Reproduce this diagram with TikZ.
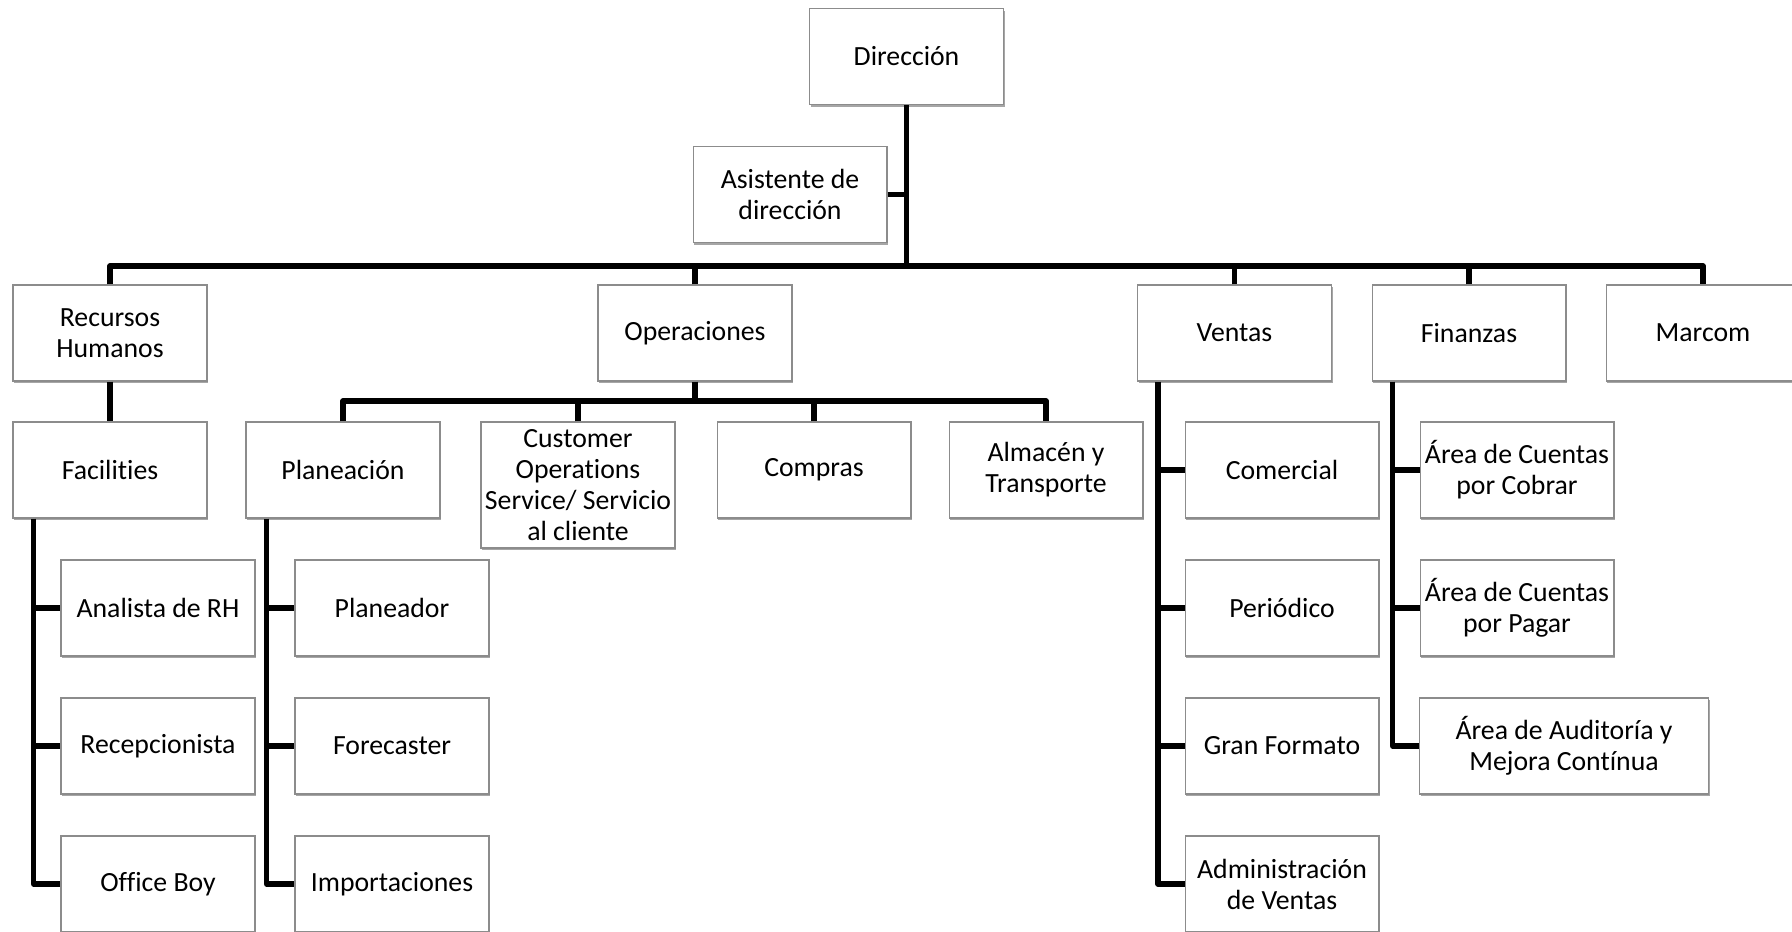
\documentclass[tikz,border=0pt]{standalone}
\usepackage{fontspec}
\setmainfont{Carlito}[RawFeature={-liga}]
\usetikzlibrary{positioning, calc, shadows}

\tikzset{
  unit/.style={draw=black!45, line width=0.6pt, fill=white, inner sep=1pt,
    minimum width=3.88cm, minimum height=1.92cm, align=center,
    font=\fontsize{15.8}{17.6}\selectfont,
    drop shadow={shadow xshift=0.7pt, shadow yshift=-1.3pt, opacity=0.35, fill=black}},
  wideunit/.style={unit, minimum width=5.78cm},
  tallunit/.style={unit, minimum height=2.52cm},
  link/.style={line width=2.9pt, line join=round}
}

\begin{document}
\begin{tikzpicture}[x=0.02cm, y=-0.02cm]
  \useasboundingbox (0,0) rectangle (1792,932);
  \clip (0,0) rectangle (1792,932);

  % top of the chart
  \node[unit] (dir)  at (906.5,56.5) {Dirección};
  \node[unit] (asis) at (790,194.5) {Asistente de\\dirección};

  % areas
  \node[unit] (rh)  at (110,333)  {Recursos\\Humanos};
  \node[unit] (ops) at (695,333)  {Operaciones};
  \node[unit] (ven) at (1234.5,333) {Ventas};
  \node[unit] (fin) at (1469,333) {Finanzas};
  \node[unit] (mkt) at (1703,333) {Marcom};

  % third row
  \node[unit] (fac)  at (110,470)  {Facilities};
  \node[unit] (plan) at (343,470)  {Planeación};
  \node[tallunit] (cus) at (578,485) {Customer\\Operations\\Service/ Servicio\\al cliente};
  \node[unit] (com)  at (814,470)  {Compras};
  \node[unit] (alm)  at (1046,470) {Almacén y\\Transporte};
  \node[unit] (comr) at (1282,470) {Comercial};
  \node[unit] (cob)  at (1517,470) {Área de Cuentas\\por Cobrar};

  % lower rows
  \node[unit] (ana)  at (158,608) {Analista de RH};
  \node[unit] (rec)  at (158,746) {Recepcionista};
  \node[unit] (boy)  at (158,884) {Office Boy};
  \node[unit] (pla)  at (392,608) {Planeador};
  \node[unit] (fore) at (392,746) {Forecaster};
  \node[unit] (imp)  at (392,884) {Importaciones};
  \node[unit] (per)  at (1282,608) {Periódico};
  \node[unit] (gran) at (1282,746) {Gran Formato};
  \node[unit] (adm)  at (1282,884) {Administración\\de Ventas};
  \node[unit] (pag)  at (1517,608) {Área de Cuentas\\por Pagar};
  \node[wideunit] (aud) at (1564,746) {Área de Auditoría y\\Mejora Contínua};

  % main bar
  \coordinate (bar) at (0,266);
  \draw[link] (dir.south) -- (dir.south |- bar);
  \draw[link] (asis.east) -- (asis.east -| dir.south);
  \draw[link] (rh.north) -- (rh.north |- bar) -- (mkt.north |- bar) -- (mkt.north);
  \foreach \n in {ops,ven,fin} { \draw[link] (\n.north) -- (\n.north |- bar); }

  % operaciones bar
  \coordinate (opsbar) at (0,401);
  \draw[link] (ops.south) -- (ops.south |- opsbar);
  \draw[link] (plan.north) -- (plan.north |- opsbar) -- (alm.north |- opsbar) -- (alm.north);
  \foreach \n in {cus,com} { \draw[link] (\n.north) -- (\n.north |- opsbar); }

  \draw[link] (rh) -- (fac);

  % side trunks
  \coordinate (facT) at ($(fac.south west)+(21,0)$);
  \draw[link] (facT) |- (boy.west);
  \foreach \n in {ana,rec} { \draw[link] (facT |- \n.west) -- (\n.west); }

  \coordinate (planT) at ($(plan.south west)+(21,0)$);
  \draw[link] (planT) |- (imp.west);
  \foreach \n in {pla,fore} { \draw[link] (planT |- \n.west) -- (\n.west); }

  \coordinate (venT) at ($(ven.south west)+(21,0)$);
  \draw[link] (venT) |- (adm.west);
  \foreach \n in {comr,per,gran} { \draw[link] (venT |- \n.west) -- (\n.west); }

  \coordinate (finT) at ($(fin.south west)+(21,0)$);
  \draw[link] (finT) |- (aud.west);
  \foreach \n in {cob,pag} { \draw[link] (finT |- \n.west) -- (\n.west); }
\end{tikzpicture}
\end{document}
